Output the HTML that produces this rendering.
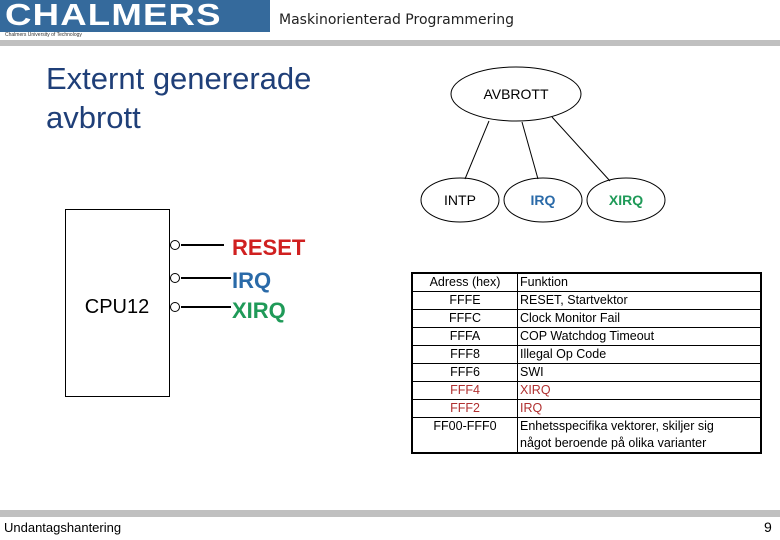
<!DOCTYPE html>
<html><head><meta charset="utf-8"><style>
body{margin:0;width:780px;height:540px;position:relative;background:#fff;font-family:"Liberation Sans",sans-serif;overflow:hidden}
.a{position:absolute;white-space:nowrap}
table{position:absolute;left:411px;top:272px;border-collapse:collapse;border:2px solid #000;font-size:12.5px;line-height:17px}
td{border:1px solid #000;padding:0 2px;height:17px}
td.c{text-align:center;width:100px}
td.f{width:238px}
.r{color:#b03030}
</style></head><body>
<div class="a" style="left:0;top:0;width:270px;height:32px;background:#356a9c"></div>
<div class="a" style="left:5px;top:-3px;font-size:31px;font-weight:bold;color:#fff;letter-spacing:1px;transform:scaleX(1.18);transform-origin:0 0">CHALMERS</div>
<div class="a" style="left:5px;top:32px;font-size:5px;color:#333">Chalmers University of Technology</div>
<div class="a" style="left:279px;top:12px;font-size:14px;font-family:'DejaVu Sans',sans-serif;color:#222">Maskinorienterad Programmering</div>
<div class="a" style="left:0;top:40px;width:780px;height:6px;background:#c0c0c0"></div>
<div class="a" style="left:46px;top:59px;font-size:31px;line-height:39px;color:#1f3f78">Externt genererade<br>avbrott</div>
<svg class="a" style="left:0;top:0" width="780" height="540">
<ellipse cx="516" cy="94" rx="65" ry="27" fill="none" stroke="#000"/>
<ellipse cx="460" cy="200" rx="39" ry="22" fill="none" stroke="#000"/>
<ellipse cx="543" cy="200" rx="39" ry="22" fill="none" stroke="#000"/>
<ellipse cx="626" cy="200" rx="39" ry="22" fill="none" stroke="#000"/>
<line x1="489" y1="121" x2="465" y2="179" stroke="#000"/>
<line x1="522" y1="122" x2="538" y2="179" stroke="#000"/>
<line x1="552" y1="117" x2="610" y2="181" stroke="#000"/>
<text x="516" y="99" font-size="14" text-anchor="middle" font-family="Liberation Sans">AVBROTT</text>
<text x="460" y="205" font-size="14" text-anchor="middle" font-family="Liberation Sans">INTP</text>
<text x="543" y="205" font-size="14" text-anchor="middle" font-family="Liberation Sans" font-weight="bold" fill="#2a6aa8">IRQ</text>
<text x="626" y="205" font-size="14" text-anchor="middle" font-family="Liberation Sans" font-weight="bold" fill="#1f9a58">XIRQ</text>
<rect x="65.5" y="209.5" width="104" height="187" fill="none" stroke="#000"/>
<circle cx="175" cy="245" r="4.5" fill="#fff" stroke="#000"/>
<circle cx="175" cy="278" r="4.5" fill="#fff" stroke="#000"/>
<circle cx="175" cy="307" r="4.5" fill="#fff" stroke="#000"/>
<g stroke="#000" stroke-width="2">
<line x1="181" y1="245" x2="224" y2="245"/><line x1="181" y1="278" x2="231" y2="278"/><line x1="181" y1="307" x2="231" y2="307"/>
</g>
<text x="117" y="313" font-size="20" text-anchor="middle" font-family="Liberation Sans">CPU12</text>
<text x="232" y="255" font-size="22" font-weight="bold" fill="#d02020" font-family="Liberation Sans">RESET</text>
<text x="232" y="288" font-size="22" font-weight="bold" fill="#2a6aa8" font-family="Liberation Sans">IRQ</text>
<text x="232" y="318" font-size="22" font-weight="bold" fill="#1f9a58" font-family="Liberation Sans">XIRQ</text>
</svg>
<table>
<tr><td class="c">Adress (hex)</td><td class="f">Funktion</td></tr>
<tr><td class="c">FFFE</td><td>RESET, Startvektor</td></tr>
<tr><td class="c">FFFC</td><td>Clock Monitor Fail</td></tr>
<tr><td class="c">FFFA</td><td>COP Watchdog Timeout</td></tr>
<tr><td class="c">FFF8</td><td>Illegal Op Code</td></tr>
<tr><td class="c">FFF6</td><td>SWI</td></tr>
<tr><td class="c r">FFF4</td><td class="r">XIRQ</td></tr>
<tr><td class="c r">FFF2</td><td class="r">IRQ</td></tr>
<tr><td class="c" style="vertical-align:top">FF00-FFF0</td><td>Enhetsspecifika vektorer, skiljer sig<br>något beroende på olika varianter</td></tr>
</table>
<div class="a" style="left:0;top:510px;width:780px;height:7px;background:#c0c0c0"></div>
<div class="a" style="left:4px;top:520px;font-size:13px">Undantagshantering</div>
<div class="a" style="left:764px;top:519px;font-size:14px">9</div>
</body></html>
